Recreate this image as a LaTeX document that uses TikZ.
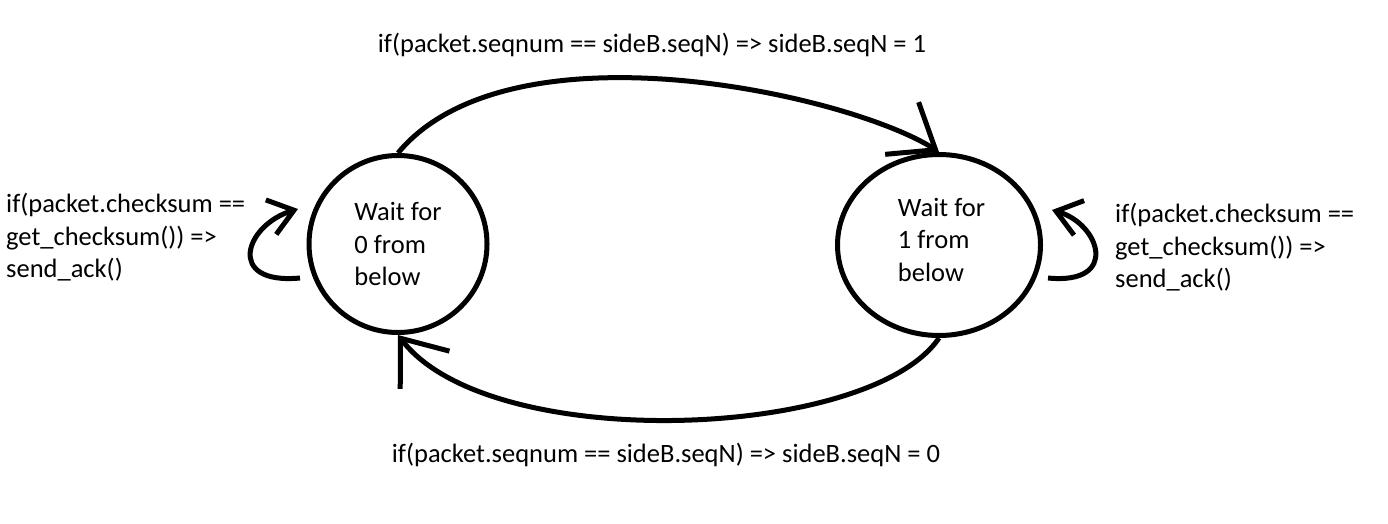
\documentclass[tikz,border=0pt]{standalone}
\usepackage{fontspec}
\setmainfont{Carlito}
\usetikzlibrary{shapes.geometric,arrows.meta}
\begin{document}
\begin{tikzpicture}[x=1pt,y=-1pt,
  every node/.style={font=\fontsize{26.5}{32.5}\selectfont, inner sep=0pt},
  state/.style={ellipse, draw, line width=5pt, align=left},
  edge/.style={line width=5pt},
  bigtip/.style={-{Straight Barb[length=40pt,width=62pt,line width=5pt,quick]}},
  smalltip/.style={-{Straight Barb[length=24pt,width=36pt,line width=5pt,quick]}},
  lbl/.style={align=left}]
\useasboundingbox (0,0) rectangle (1388,523);
\node[state, minimum width=178pt, minimum height=177pt] (L) at (398,244) {Wait for\\0 from\\below};
\node[state, minimum width=203pt, minimum height=181pt] (R) at (939,245) {\hspace*{5pt}Wait for\\\hspace*{5pt}1 from\\\hspace*{5pt}below\\[-22pt]};
\node[anchor=base] (tl) at (652,52) {if(packet.seqnum == sideB.seqN) => sideB.seqN = 1};
\node[anchor=base] (bl) at (666,462) {if(packet.seqnum == sideB.seqN) => sideB.seqN = 0};
\node[lbl, anchor=north west] (ll) at (6,193) {if(packet.checksum ==\\get\_checksum()) =>\\send\_ack()};
\node[lbl, anchor=north west] (rl) at (1115,203) {if(packet.checksum ==\\get\_checksum()) =>\\send\_ack()};
\coordinate (la) at (300,278);
\coordinate (lb) at (298,209);
\coordinate (ra) at (1048,278);
\coordinate (rb) at (1052,210);
\draw[edge, bigtip] (L.north) .. controls (510,18) and (850,95) .. (R.north);
\draw[edge, bigtip] (R.south) .. controls (870,440) and (490,455) .. (L.south);
\draw[edge, smalltip] (la) .. controls (225,285) and (245,225) .. (lb);
\draw[edge, smalltip] (ra) .. controls (1120,285) and (1100,224) .. (rb);
\end{tikzpicture}
\end{document}
